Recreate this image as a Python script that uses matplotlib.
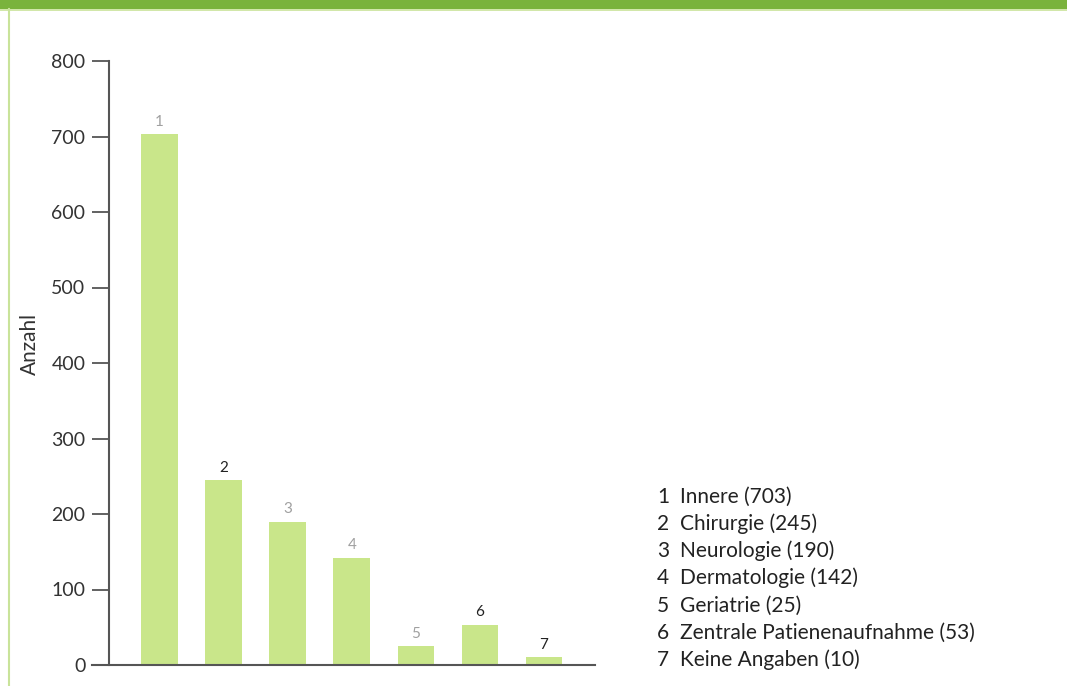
import matplotlib
matplotlib.use("Agg")
import matplotlib.pyplot as plt
from matplotlib.patches import Rectangle
from matplotlib.lines import Line2D

plt.rcParams['font.family'] = ['Lato', 'DejaVu Sans']

numbers = ["1", "2", "3", "4", "5", "6", "7"]
names = ["Innere", "Chirurgie", "Neurologie", "Dermatologie", "Geriatrie",
         "Zentrale Patienenaufnahme", "Keine Angaben"]
values = [703, 245, 190, 142, 25, 53, 10]
label_colors = ["#a0a0a0", "#222222", "#a0a0a0", "#a0a0a0", "#a0a0a0", "#222222", "#222222"]
yticks = [0, 100, 200, 300, 400, 500, 600, 700, 800]

W, H = 1067, 686
fig = plt.figure(figsize=(W / 100, H / 100), dpi=100)
fig.patch.set_facecolor("white")

# decorative frame
fig.add_artist(Rectangle((0, (H - 9) / H), 1, 9 / H, transform=fig.transFigure,
                         facecolor="#7ab33c", edgecolor="none"))
fig.add_artist(Line2D([0, 1], [(H - 10) / H] * 2, transform=fig.transFigure,
                      color="#c9e39a", lw=1.2))
fig.add_artist(Line2D([8.5 / W] * 2, [0, (H - 9) / H], transform=fig.transFigure,
                      color="#c9e39a", lw=1.5))

left_px, right_px, top_px, bot_px = 92, 595, 61, 665
ax = fig.add_axes([left_px / W, (H - bot_px) / H, (right_px - left_px) / W,
                   (bot_px - top_px) / H])
x = list(range(len(values)))
bars = ax.bar(x, values, width=0.57, color="#c9e68a", edgecolor="none")
ax.set_xlim(-1.053, 6.796)
ax.set_ylim(0, 800)
ax.set_yticks(yticks)
ax.set_xticks([])

for s in ["top", "right"]:
    ax.spines[s].set_visible(False)
ax.spines["left"].set_position(("data", -0.788))
ax.spines["left"].set_color("#555555")
ax.spines["left"].set_linewidth(1.5)
ax.spines["bottom"].set_color("#555555")
ax.spines["bottom"].set_linewidth(1.5)
ax.tick_params(axis="y", direction="out", length=12, width=1.3, color="#555555",
               pad=5, labelsize=14, labelcolor="#333333")

for xi, v, n, c in zip(x, values, numbers, label_colors):
    ax.annotate(n, (xi, v), xytext=(0, 9), textcoords="offset points",
                ha="center", va="center", fontsize=11, color=c)

fig.text(30 / W, (H - 344) / H, "Anzahl", rotation=90, ha="center", va="center",
         fontsize=15, color="#333333")

ys = [497, 524, 551, 578, 606, 633, 660]
for n, name, v, yp in zip(numbers, names, values, ys):
    fig.text(657 / W, (H - yp) / H, n, ha="left", va="center", fontsize=15, color="#222222")
    fig.text(680 / W, (H - yp) / H, f"{name} ({v})", ha="left", va="center",
             fontsize=15, color="#222222")

fig.savefig("out.png", dpi=100)
